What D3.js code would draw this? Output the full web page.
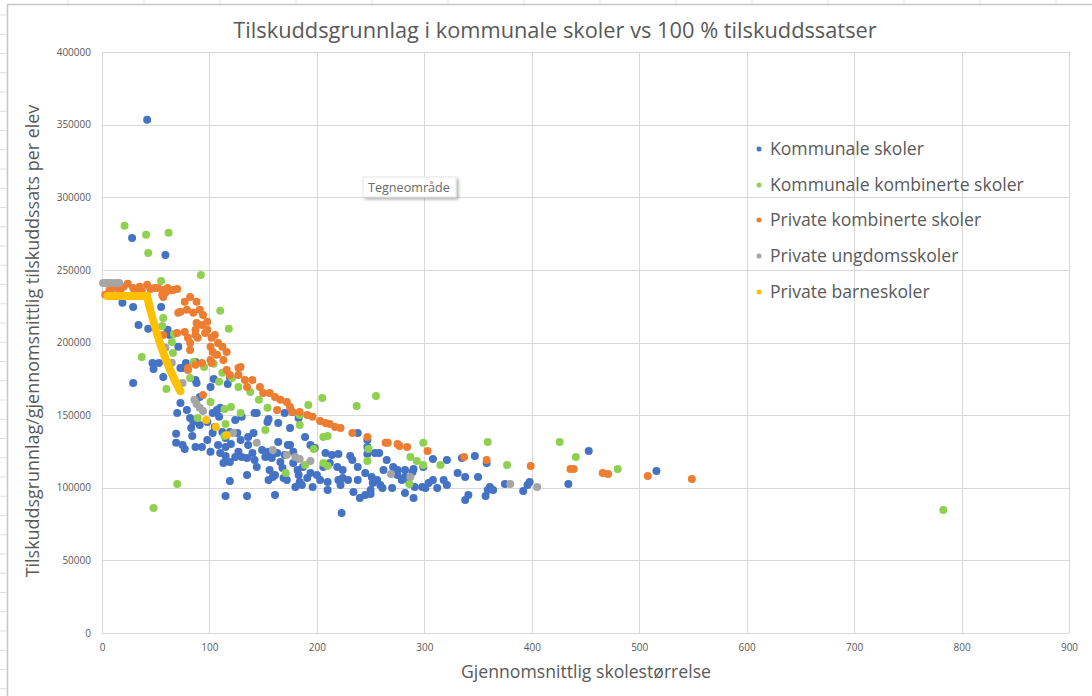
<!DOCTYPE html>
<html>
<head>
<meta charset="utf-8">
<script src="https://cdn.jsdelivr.net/npm/d3@7"></script>
<style>
  body { margin: 0; background: #fff; }
  svg { display: block; font-family: "Open Sans", "Noto Sans", sans-serif; }
</style>
</head>
<body>
<svg width="1092" height="696"></svg>
<script>
// series names, in the order Excel draws them (later ones on top)
var seriesNames = ["Kommunale skoler", "Kommunale kombinerte skoler", "Private kombinerte skoler",
                   "Private ungdomsskoler", "Private barneskoler"];
var seriesColors = ["#4472c4", "#8fd14f", "#ed7d31", "#a5a5a5", "#ffc000"];

// [skolestørrelse, tilskudd per elev]
var kommunaleSkoler = [[42,353300],[28,272000],[59,260300],[19,227300],[29,224500],[34,212100],[43,209400],[55,224500],[61,208700],[63,205200],[71,197000],[47,185900],[53,185900],[48,181800],[57,176300],[29,172200],[73,182500],[78,185900],[87,174200],[88,172200],[104,174900],[119,176300],[117,171500],[101,169400],[91,162500],[73,158400],[79,153600],[107,153600],[110,155000],[144,151500],[155,147400],[170,151500],[177,152200],[70,151500],[82,148100],[83,141200],[85,145300],[91,143200],[98,145300],[103,151500],[109,148800],[105,141900],[103,137700],[112,138400],[115,134300],[119,138400],[124,146700],[130,148800],[142,151500],[154,145300],[164,144600],[175,141200],[183,148100],[69,137100],[69,130900],[75,129500],[77,126700],[84,135700],[87,128100],[93,128100],[98,132900],[101,124700],[108,129500],[110,124000],[115,128100],[120,130200],[126,137700],[129,132900],[136,135000],[141,137700],[136,129500],[127,124700],[130,121200],[135,120500],[140,124000],[142,119100],[115,121900],[113,117100],[119,117800],[124,121200],[149,126000],[152,121200],[155,124700],[158,120500],[164,131500],[166,117800],[170,122600],[173,129500],[178,124700],[163,124000],[156,112300],[159,107400],[161,108800],[168,113600],[169,106700],[144,114300],[135,108800],[119,104700],[115,94400],[135,94400],[161,95000],[180,100600],[184,104000],[183,108800],[175,129500],[189,135000],[194,129500],[198,127400],[208,124000],[214,122600],[220,123300],[231,121900],[238,137700],[247,132900],[247,128100],[247,123300],[254,124000],[258,124000],[233,119100],[238,114300],[265,119100],[271,114300],[262,112300],[275,112300],[282,112300],[290,112900],[299,114300],[308,119800],[321,119100],[335,120500],[347,121900],[178,117100],[182,112300],[187,114300],[194,110200],[200,108800],[206,114300],[212,117100],[219,114300],[224,112300],[191,106700],[186,101900],[196,100600],[203,105400],[210,104000],[220,105400],[224,106700],[229,105400],[210,98500],[234,97100],[222,101900],[238,105400],[245,110200],[251,107400],[252,103300],[256,105400],[259,101900],[250,98500],[245,95000],[240,93000],[261,99900],[270,99900],[275,108800],[279,105400],[282,107400],[285,105400],[289,110900],[291,100600],[282,96400],[290,93000],[298,100600],[301,99900],[304,103300],[308,105400],[312,99900],[318,105400],[321,101900],[331,110200],[338,107400],[350,107400],[358,117100],[359,98500],[361,100600],[364,98500],[357,94400],[341,95000],[338,91600],[223,82600],[375,102600],[396,101900],[398,104000],[392,97800],[434,102600],[453,125300],[516,111600],[155,105400],[172,105400],[250,95700],[87,186600],[75,182500]];

var kommunaleKombinerte = [[21,280300],[41,274100],[62,275500],[43,261700],[92,246500],[55,242400],[57,216900],[56,211400],[110,221800],[118,209400],[65,200400],[67,205900],[66,192800],[37,190100],[60,168000],[85,186600],[95,183200],[104,185300],[82,175600],[109,172900],[112,179100],[121,175600],[127,169400],[138,166000],[146,160500],[154,155000],[192,157000],[205,161800],[114,154300],[120,155600],[129,151500],[101,159100],[184,150100],[89,148100],[115,143900],[114,135700],[152,139800],[184,143200],[171,110200],[70,102600],[48,86100],[783,84700],[237,156300],[255,163200],[206,135000],[210,135700],[197,126700],[206,117100],[210,115000],[189,115700],[248,126700],[247,118500],[287,121200],[293,118500],[299,130900],[299,115700],[315,115700],[286,102600],[359,131500],[377,115700],[426,131500],[441,121200],[480,112900]];

var privateKombinerte = [[3,232800],[7,236200],[10,237600],[14,237600],[20,238300],[24,240400],[29,237600],[35,238300],[37,235500],[42,239700],[45,236900],[49,237600],[52,237600],[56,232800],[57,236200],[59,234200],[61,237600],[63,236200],[66,236200],[70,236900],[57,231400],[31,234800],[17,234800],[73,221100],[77,228000],[82,231400],[88,228000],[79,222500],[85,220400],[91,222500],[94,219000],[98,214200],[88,213500],[93,212100],[77,207300],[87,208700],[98,208700],[87,205200],[96,206600],[80,203200],[82,199700],[105,205200],[102,203200],[108,199700],[101,197000],[112,197000],[103,193500],[116,193500],[107,191500],[101,188000],[113,188000],[93,185900],[87,184600],[80,182500],[127,182500],[119,177700],[127,177700],[133,174200],[140,174200],[135,169400],[147,169400],[150,165300],[156,165300],[161,162500],[166,160500],[172,159100],[163,153600],[177,152200],[184,152200],[191,150100],[196,148800],[94,163900],[175,155600],[203,146000],[208,144600],[212,143900],[217,141900],[222,141200],[233,137700],[247,135000],[264,130900],[266,130900],[275,130200],[277,128800],[284,128100],[303,125300],[337,121200],[358,119100],[399,115000],[436,112900],[439,112900],[466,110200],[471,109500],[508,108100],[549,106100],[71,220400],[70,206600],[57,205200],[89,203200],[116,181100],[129,183200],[102,185900],[82,194900],[80,181100]];

var privateUngdom = [[1,241000],[4,241000],[6,241000],[9,241000],[13,241000],[16,241000],[59,196300],[65,186000],[75,172200],[86,160500],[88,157700],[91,155000],[94,152900],[122,137700],[144,130900],[159,126000],[172,122600],[180,121200],[184,119800],[194,118500],[269,109500],[287,107400],[380,102600],[405,100600]];

var privateBarne = [[5,232000],[7,232000],[9,232000],[11,232000],[13,232000],[15,232000],[17,232000],[19,232000],[21,232000],[23,232000],[25,232000],[27,232000],[29,232000],[31,232000],[33,232000],[35,232000],[37,232000],[39,232000],[41,232000],[42,232000],[42.5,230300],[43,228700],[43.5,227100],[44,225600],[44.5,224100],[45,222600],[46,219700],[47,216800],[48,214100],[49,211500],[50,209000],[51,206500],[52,204100],[53,201800],[54,199500],[55,197300],[56,195200],[57,193200],[58,191100],[59,189200],[60,187300],[61,185400],[62,183600],[63,181900],[64,180200],[65,178500],[66,176900],[67,175300],[68,173700],[69,172200],[70,170800],[71,169300],[72,167900],[73,166500],[97,146700],[106,141900],[116,136400]];

var seriesValues = [kommunaleSkoler, kommunaleKombinerte, privateKombinerte, privateUngdom, privateBarne];

var xTicks = [0, 100, 200, 300, 400, 500, 600, 700, 800, 900];
var yTicks = [0, 50000, 100000, 150000, 200000, 250000, 300000, 350000, 400000];

var titleText = "Tilskuddsgrunnlag i kommunale skoler vs 100 % tilskuddssatser";
var xTitle = "Gjennomsnittlig skolestørrelse";
var yTitle = "Tilskuddsgrunnlag/gjennomsnittlig tilskuddssats per elev";

var svg = d3.select("svg");
var textColor = "#595959", gridColor = "#d9d9d9";

// scale text so that it spans a given width
function fitWidth(sel, w) {
  var len = sel.node().getComputedTextLength();
  sel.attr("font-size", parseFloat(sel.attr("font-size")) * w / len);
}

// spreadsheet behind the chart
svg.append("g").selectAll("line").data(d3.range(36)).enter().append("line")
    .attr("x1", 0).attr("x2", 7)
    .attr("y1", function(d) { return 15 + d * 19.25; })
    .attr("y2", function(d) { return 15 + d * 19.25; })
    .attr("stroke", "#e1e1e1");
svg.append("g").selectAll("line").data(d3.range(15)).enter().append("line")
    .attr("x1", function(d) { return 68 + d * 76; })
    .attr("x2", function(d) { return 68 + d * 76; })
    .attr("y1", 0).attr("y2", 4)
    .attr("stroke", "#e1e1e1");

// chart area
svg.append("rect")
    .attr("x", 7.5).attr("y", 4.5)
    .attr("width", 1100).attr("height", 720)
    .attr("fill", "#fff")
    .attr("stroke", "#c8c8c8")
    .attr("stroke-width", 1.5);

var xScale = d3.scaleLinear().domain([0, 900]).range([102, 1069]);
var yScale = d3.scaleLinear().domain([0, 400000]).range([633, 52]);

// gridlines
svg.append("g").selectAll("line").data(xTicks).enter().append("line")
    .attr("x1", function(d) { return Math.round(xScale(d)) + 0.5; })
    .attr("x2", function(d) { return Math.round(xScale(d)) + 0.5; })
    .attr("y1", yScale(400000)).attr("y2", yScale(0))
    .attr("stroke", gridColor);
svg.append("g").selectAll("line").data(yTicks).enter().append("line")
    .attr("x1", xScale(0)).attr("x2", xScale(900))
    .attr("y1", function(d) { return Math.round(yScale(d)) + 0.5; })
    .attr("y2", function(d) { return Math.round(yScale(d)) + 0.5; })
    .attr("stroke", gridColor);

// axes (labels only)
var xAxis = svg.append("g")
    .attr("transform", "translate(0," + yScale(0) + ")")
    .call(d3.axisBottom(xScale).tickValues(xTicks).tickSize(0).tickPadding(11).tickFormat(d3.format("d")));
var yAxis = svg.append("g")
    .attr("transform", "translate(" + xScale(0) + ",0)")
    .call(d3.axisLeft(yScale).tickValues(yTicks).tickSize(0).tickPadding(11).tickFormat(d3.format("d")));
[xAxis, yAxis].forEach(function(a) {
  a.select(".domain").remove();
  a.selectAll("text").attr("fill", textColor).attr("font-size", 10)
      .attr("font-family", "\"Open Sans\", \"Noto Sans\", sans-serif");
});

// points
var series = svg.append("g").selectAll("g")
    .data(seriesValues).enter().append("g")
    .attr("fill", function(d, i) { return seriesColors[i]; });
series.selectAll("circle")
    .data(function(d) { return d; }).enter().append("circle")
    .attr("cx", function(d) { return xScale(d[0]); })
    .attr("cy", function(d) { return yScale(d[1]); })
    .attr("r", 4);

// title
var title = svg.append("text")
    .attr("x", 555).attr("y", 38)
    .attr("text-anchor", "middle")
    .attr("fill", textColor)
    .attr("font-size", 20)
    .text(titleText);
fitWidth(title, 644);

var xt = svg.append("text")
    .attr("x", 586).attr("y", 678)
    .attr("text-anchor", "middle")
    .attr("fill", textColor)
    .attr("font-size", 16)
    .text(xTitle);
fitWidth(xt, 250);

var yt = svg.append("text")
    .attr("transform", "translate(39,341) rotate(-90)")
    .attr("text-anchor", "middle")
    .attr("fill", textColor)
    .attr("font-size", 16)
    .text(yTitle);
fitWidth(yt, 473);

// legend
var legendY = [149, 185, 220, 256, 292];
var legend = svg.append("g").selectAll("g")
    .data(seriesNames).enter().append("g")
    .attr("transform", function(d, i) { return "translate(759," + legendY[i] + ")"; });
legend.append("circle")
    .attr("r", 2.5)
    .attr("fill", function(d, i) { return seriesColors[i]; });
var legendText = legend.append("text")
    .attr("x", 11).attr("dy", "0.35em")
    .attr("fill", textColor)
    .attr("font-size", 16)
    .text(function(d) { return d; });
var longest = legendText.filter(function(d, i) { return i === 1; });
var lsize = 16 * 254 / longest.node().getComputedTextLength();
legendText.attr("font-size", lsize);

// "Tegneområde" hover tip
var defs = svg.append("defs");
var f = defs.append("filter").attr("id", "shadow").attr("x", "-20%").attr("y", "-40%").attr("width", "150%").attr("height", "200%");
f.append("feDropShadow").attr("dx", 2).attr("dy", 2).attr("stdDeviation", 1.5).attr("flood-color", "#000").attr("flood-opacity", 0.3);
svg.append("rect")
    .attr("x", 363).attr("y", 177).attr("width", 93).attr("height", 20)
    .attr("fill", "#fff").attr("stroke", "#e6e6e6")
    .attr("filter", "url(#shadow)");
var tip = svg.append("text")
    .attr("x", 368).attr("y", 191.5)
    .attr("fill", "#6b6b6b")
    .attr("font-size", 12)
    .text("Tegneområde");
fitWidth(tip, 82);
</script>
</body>
</html>
